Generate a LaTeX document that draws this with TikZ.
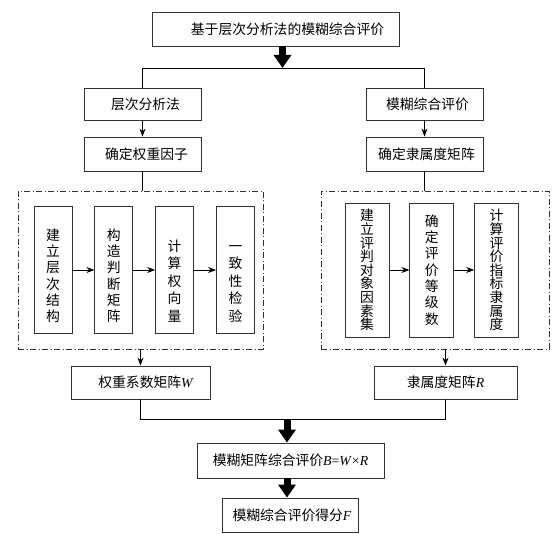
\documentclass[tikz,border=0pt]{standalone}
\usepackage{fontspec}
\setmainfont{Liberation Serif}
\newfontfamily\cjk{Noto Sans CJK SC}
\usetikzlibrary{arrows.meta,positioning}
\newcommand{\mvar}[1]{{\rmfamily\itshape #1}}

\begin{document}
\begin{tikzpicture}[
  x=1pt, y=-1pt,
  >={Stealth[length=8pt,width=6pt]},
  every node/.style={font=\cjk\fontsize{13.8}{16}\selectfont},
  box/.style={draw=black!80, line width=0.8pt, inner sep=0pt, minimum height=33pt},
  vbox/.style={box, align=center, minimum width=38pt, minimum height=127pt, text height=115pt, text depth=12pt},
  rbox/.style={box, align=center, minimum width=44pt, minimum height=134pt},
  group/.style={draw=black!80, line width=0.8pt, dash pattern=on 6pt off 2.5pt on 1pt off 2.5pt, inner sep=0pt, minimum height=158pt},
  link/.style={black, line width=0.8pt},
  bigarrow/.style={line width=7pt, -{Triangle[width=17pt 0 0,length=13pt 0 0]}}
]
\useasboundingbox (0,0) rectangle (553,534);

\node[box, minimum width=247pt, minimum height=34pt] (Top) at (275.5,29) {\hspace*{24pt}基于层次分析法的模糊综合评价};
\coordinate (Split) at (282.5,68);

\node[box, minimum width=117pt, minimum height=32pt] (AHP) at (142.5,104) {\hspace*{6pt}层次分析法};
\node[box, minimum width=117pt, minimum height=32pt] (Fuzzy) at (424.5,104) {\hspace*{6pt}模糊综合评价};
\node[box, minimum width=117pt, minimum height=34pt] (Weight) at (142.5,154) {\hspace*{8pt}确定权重因子};
\node[box, minimum width=117pt, minimum height=34pt] (Member) at (424.5,154) {\hspace*{4pt}确定隶属度矩阵};

% left group
\node[group, minimum width=245pt] (LGrp) at (140.5,270) {};
\node[vbox, right=16pt of LGrp.west, font=\cjk\fontsize{13.8}{16.2}\selectfont] (Build) {建\\立\\层\\次\\结\\构};
\node[vbox, right=22pt of Build, font=\cjk\fontsize{13.8}{16.2}\selectfont] (Judge) {构\\造\\判\\断\\矩\\阵};
\node[vbox, right=22pt of Judge, font=\cjk\fontsize{13.8}{17.6}\selectfont] (Vector) {计\\算\\权\\向\\量};
\node[vbox, right=22pt of Vector, font=\cjk\fontsize{13.8}{17.6}\selectfont] (Check) {一\\致\\性\\检\\验};

% right group
\node[group, minimum width=228pt] (RGrp) at (435,270) {};
\node[rbox, font=\cjk\fontsize{13.8}{13.6}\selectfont, right=24pt of RGrp.west] (Factor) {建\\立\\评\\判\\对\\象\\因\\素\\集};
\node[rbox, font=\cjk\fontsize{13.8}{16.3}\selectfont, right=20pt of Factor] (Grade) {确\\定\\评\\价\\等\\级\\数};
\node[rbox, font=\cjk\fontsize{13.8}{13.6}\selectfont, right=20pt of Grade] (Degree) {计\\算\\评\\价\\指\\标\\隶\\属\\度};

\node[box, minimum width=139pt] (WMat) at (140.5,382.5) {\hspace*{10pt}权重系数矩阵\mvar{W}};
\node[box, minimum width=143pt] (RMat) at (445.5,382.5) {隶属度矩阵\mvar{R}};
\coordinate (Join) at (287,419);
\node[box, minimum width=187pt, minimum height=35pt] (Eval) at (290.5,460.5) {模糊矩阵综合评价{\rmfamily\textit{B}=\textit{W}×\textit{R}}};
\node[box, minimum width=136pt, minimum height=34pt] (Score) at (290,515) {\hspace*{4pt}模糊综合评价得分\mvar{F}};

\draw[bigarrow] (Top.south -| Split) -- (Split);
\draw[link] (AHP.north) -- (AHP.north |- Split) -- (Fuzzy.north |- Split) -- (Fuzzy.north);
\draw[link, ->] (AHP) -- (Weight);
\draw[link, ->] (Fuzzy) -- (Member);
\draw[link] (Weight.south) -- (Weight.south |- LGrp.north);
\draw[link] (Member.south) -- (Member.south |- RGrp.north);
\draw[link, ->] (Build) -- (Judge);
\draw[link, ->] (Judge) -- (Vector);
\draw[link, ->] (Vector) -- (Check);
\draw[link, ->] (Factor) -- (Grade);
\draw[link, ->] (Grade) -- (Degree);
\draw[link, ->] (LGrp.south) -- (WMat.north);
\draw[link, ->] (RMat.north |- RGrp.south) -- (RMat.north);
\draw[link] (WMat.south) -- (WMat.south |- Join) -- (RMat.south |- Join) -- (RMat.south);
\draw[bigarrow] (Join) -- (Join |- Eval.north);
\draw[bigarrow] (Eval.south -| Join) -- (Score.north -| Join);

\end{tikzpicture}
\end{document}
